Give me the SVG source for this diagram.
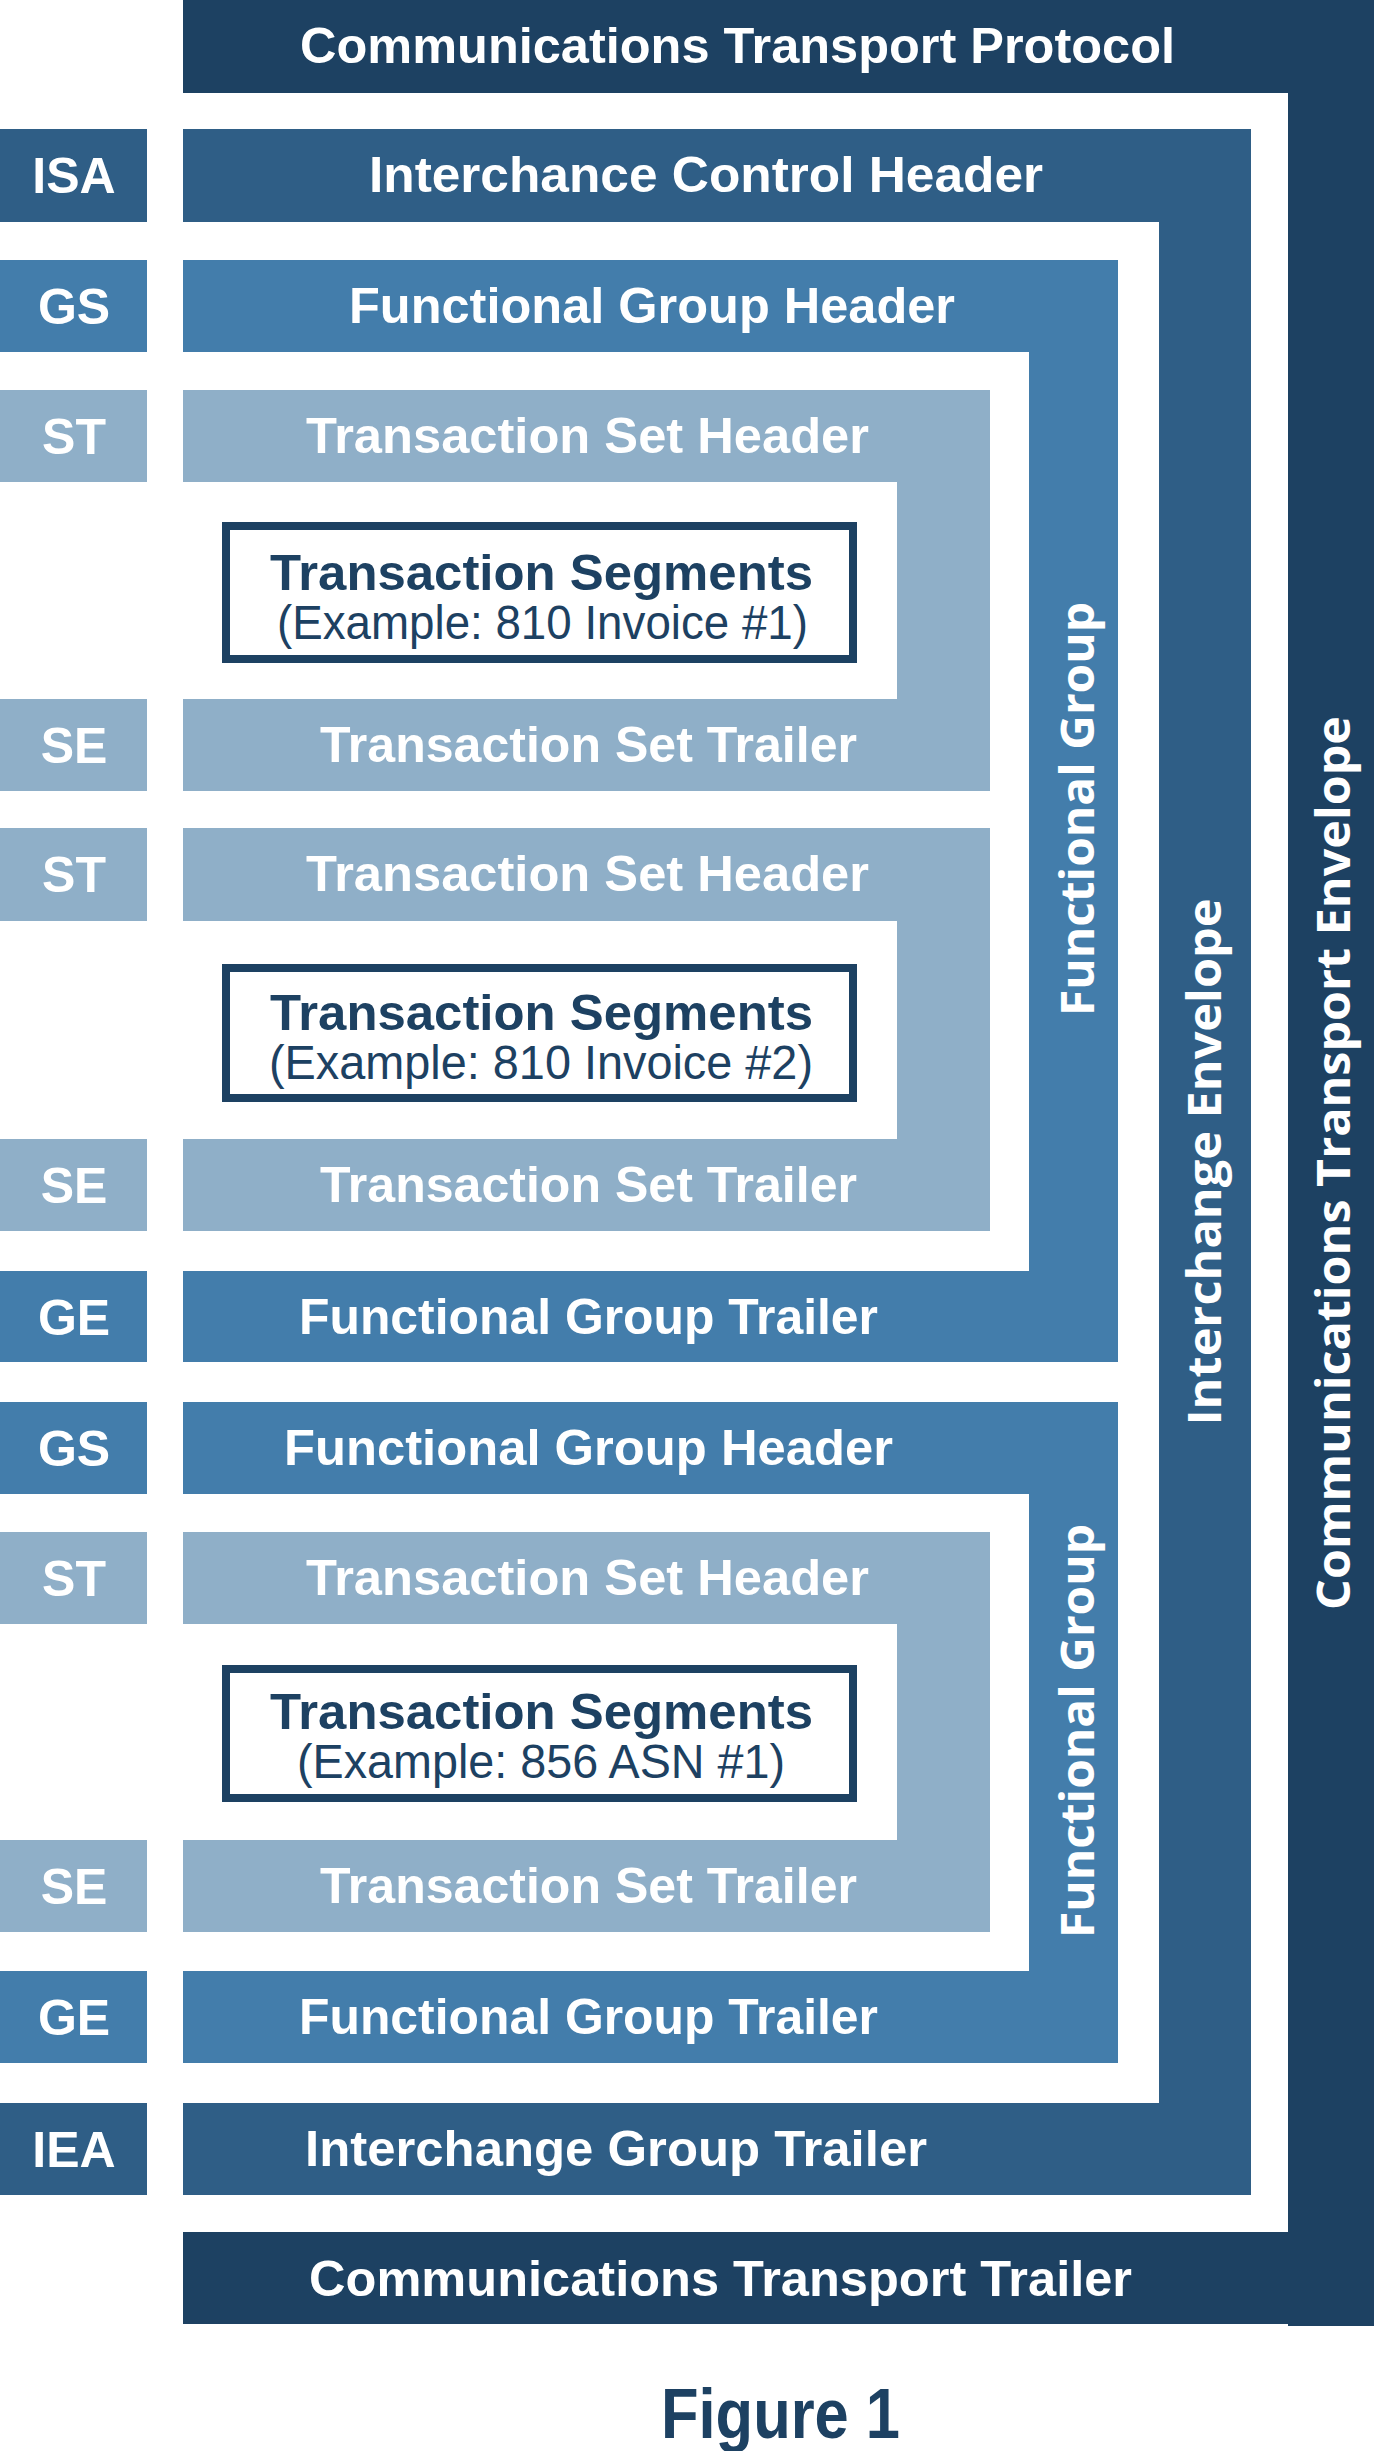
<svg xmlns="http://www.w3.org/2000/svg" width="1374" height="2451" viewBox="0 0 1374 2451">
<style>
.c0{fill:#1d4162}.c1{fill:#2f5e86}.c2{fill:#437dab}.c3{fill:#8fafc8}
.t{font-family:"Liberation Sans",Arial,sans-serif;font-weight:bold;fill:#fff;font-size:50px}
.l{font-family:"Liberation Sans",Arial,sans-serif;font-weight:bold;fill:#fff;font-size:50px;text-anchor:middle}
.v{font-family:"Open Sans","Liberation Sans",sans-serif;font-weight:bold;fill:#fff;font-size:46px;text-anchor:middle}
.s{fill:#fff;stroke:#1d4162;stroke-width:8}
.st{font-family:"Liberation Sans",Arial,sans-serif;font-weight:bold;fill:#1d4162;font-size:50px}
.ss{font-family:"Liberation Sans",Arial,sans-serif;fill:#1d4162;font-size:48px}
</style>
<rect width="1374" height="2451" fill="#fff"/>
<g id="comm-envelope">
<path class="c0" d="M183 0H1374V2326H1288V93H183Z"/>
<rect class="c0" x="183" y="2232" width="1191" height="92"/>
<text class="t" x="300" y="63" textLength="875" lengthAdjust="spacingAndGlyphs">Communications Transport Protocol</text>
<text class="t" x="309" y="2296" textLength="823" lengthAdjust="spacingAndGlyphs">Communications Transport Trailer</text>
<text class="v" transform="translate(1350 1163) rotate(-90)" textLength="894" lengthAdjust="spacingAndGlyphs">Communications Transport Envelope</text>
</g>
<g id="interchange">
<path class="c1" d="M183 129H1251V2195H183V2103H1159V222H183Z"/>
<rect class="c1" x="0" y="129" width="147" height="93"/>
<rect class="c1" x="0" y="2103" width="147" height="92"/>
<text class="l" x="74" y="193">ISA</text>
<text class="l" x="74" y="2167">IEA</text>
<text class="t" x="369" y="192" textLength="674" lengthAdjust="spacingAndGlyphs">Interchance Control Header</text>
<text class="t" x="305" y="2166" textLength="622" lengthAdjust="spacingAndGlyphs">Interchange Group Trailer</text>
<text class="v" transform="translate(1221 1162) rotate(-90)" textLength="527" lengthAdjust="spacingAndGlyphs">Interchange Envelope</text>
</g>
<g id="fg1">
<path class="c2" d="M183 260H1118V1362H183V1271H1029V352H183Z"/>
<rect class="c2" x="0" y="260" width="147" height="92"/>
<rect class="c2" x="0" y="1271" width="147" height="91"/>
<text class="l" x="74" y="324">GS</text>
<text class="l" x="74" y="1335">GE</text>
<text class="t" x="349" y="323" textLength="606" lengthAdjust="spacingAndGlyphs">Functional Group Header</text>
<text class="t" x="299" y="1334" textLength="579" lengthAdjust="spacingAndGlyphs">Functional Group Trailer</text>
<text class="v" transform="translate(1094 809) rotate(-90)" textLength="414" lengthAdjust="spacingAndGlyphs">Functional Group</text>
</g>
<g id="fg2">
<path class="c2" d="M183 1402H1118V2063H183V1971H1029V1494H183Z"/>
<rect class="c2" x="0" y="1402" width="147" height="92"/>
<rect class="c2" x="0" y="1971" width="147" height="92"/>
<text class="l" x="74" y="1466">GS</text>
<text class="l" x="74" y="2035">GE</text>
<text class="t" x="284" y="1465" textLength="609" lengthAdjust="spacingAndGlyphs">Functional Group Header</text>
<text class="t" x="299" y="2034" textLength="579" lengthAdjust="spacingAndGlyphs">Functional Group Trailer</text>
<text class="v" transform="translate(1094 1731) rotate(-90)" textLength="414" lengthAdjust="spacingAndGlyphs">Functional Group</text>
</g>
<g id="ts1">
<path class="c3" d="M183 390H990V791H183V699H897V482H183Z"/>
<rect class="c3" x="0" y="390" width="147" height="92"/>
<rect class="c3" x="0" y="699" width="147" height="92"/>
<text class="l" x="74" y="454">ST</text>
<text class="l" x="74" y="763">SE</text>
<text class="t" x="306" y="453" textLength="563" lengthAdjust="spacingAndGlyphs">Transaction Set Header</text>
<text class="t" x="320" y="762" textLength="537" lengthAdjust="spacingAndGlyphs">Transaction Set Trailer</text>
<rect class="s" x="226" y="526" width="627" height="133"/>
<text class="st" x="270" y="590" textLength="543" lengthAdjust="spacingAndGlyphs">Transaction Segments</text>
<text class="ss" x="277" y="639" textLength="531" lengthAdjust="spacingAndGlyphs">(Example: 810 Invoice #1)</text>
</g>
<g id="ts2">
<path class="c3" d="M183 828H990V1231H183V1139H897V921H183Z"/>
<rect class="c3" x="0" y="828" width="147" height="93"/>
<rect class="c3" x="0" y="1139" width="147" height="92"/>
<text class="l" x="74" y="892">ST</text>
<text class="l" x="74" y="1203">SE</text>
<text class="t" x="306" y="891" textLength="563" lengthAdjust="spacingAndGlyphs">Transaction Set Header</text>
<text class="t" x="320" y="1202" textLength="537" lengthAdjust="spacingAndGlyphs">Transaction Set Trailer</text>
<rect class="s" x="226" y="968" width="627" height="130"/>
<text class="st" x="270" y="1030" textLength="543" lengthAdjust="spacingAndGlyphs">Transaction Segments</text>
<text class="ss" x="269" y="1079" textLength="544" lengthAdjust="spacingAndGlyphs">(Example: 810 Invoice #2)</text>
</g>
<g id="ts3">
<path class="c3" d="M183 1532H990V1932H183V1840H897V1624H183Z"/>
<rect class="c3" x="0" y="1532" width="147" height="92"/>
<rect class="c3" x="0" y="1840" width="147" height="92"/>
<text class="l" x="74" y="1596">ST</text>
<text class="l" x="74" y="1904">SE</text>
<text class="t" x="306" y="1595" textLength="563" lengthAdjust="spacingAndGlyphs">Transaction Set Header</text>
<text class="t" x="320" y="1903" textLength="537" lengthAdjust="spacingAndGlyphs">Transaction Set Trailer</text>
<rect class="s" x="226" y="1669" width="627" height="129"/>
<text class="st" x="270" y="1729" textLength="543" lengthAdjust="spacingAndGlyphs">Transaction Segments</text>
<text class="ss" x="297" y="1778" textLength="488" lengthAdjust="spacingAndGlyphs">(Example: 856 ASN #1)</text>
</g>
<g id="connectors"/>
<text x="661" y="2438" font-family="Liberation Sans, Arial, sans-serif" font-weight="bold" font-size="70" fill="#1d4162" textLength="239" lengthAdjust="spacingAndGlyphs">Figure 1</text>
</svg>
